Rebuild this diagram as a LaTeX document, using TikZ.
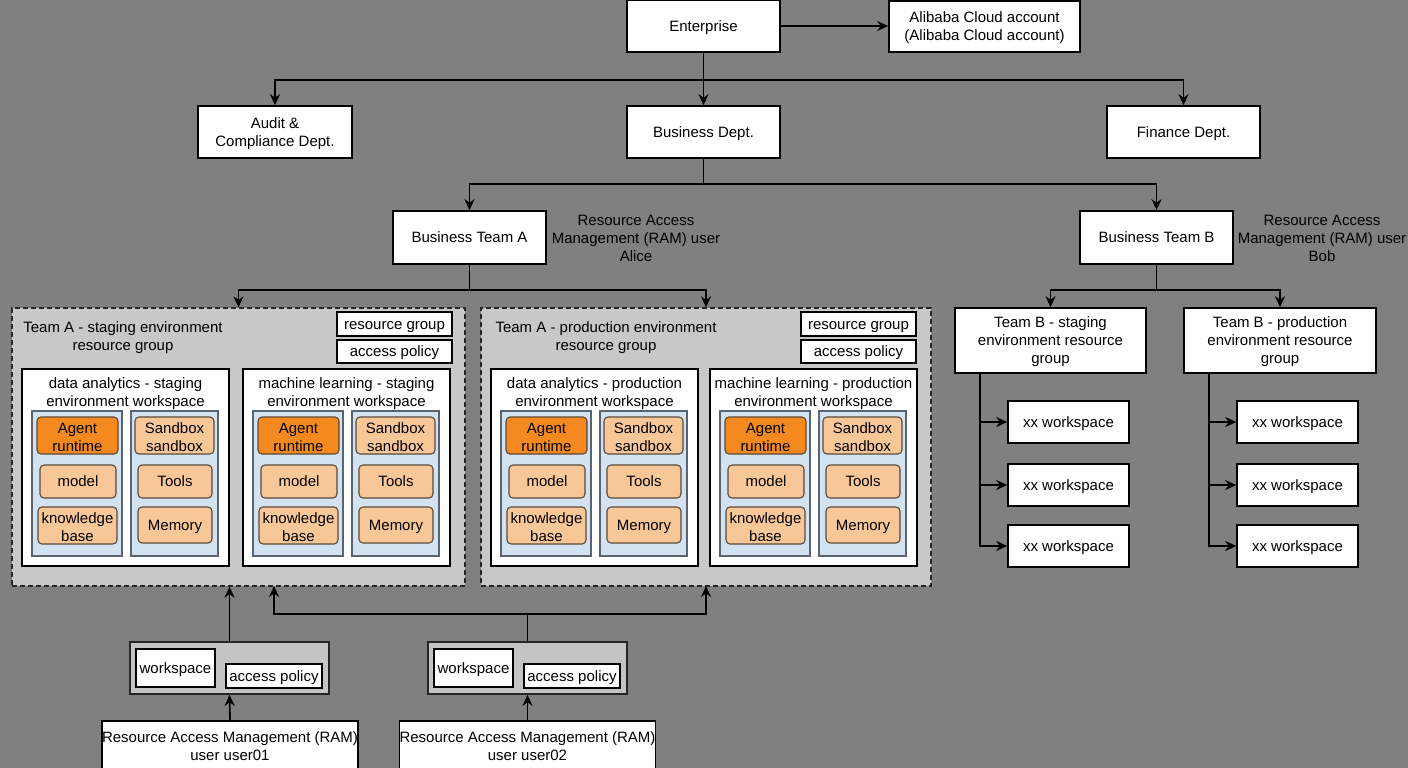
\documentclass[tikz,border=0pt]{standalone}
\usepackage{fontspec}
\setmainfont{Liberation Sans}
\usetikzlibrary{arrows.meta}
\definecolor{bgc}{HTML}{808080}
\definecolor{grpc}{HTML}{C8C8C8}
\definecolor{contc}{HTML}{C4C4C4}
\definecolor{colc}{HTML}{D3E2F1}
\definecolor{colb}{HTML}{5A6470}
\definecolor{darkor}{HTML}{F4891F}
\definecolor{lightor}{HTML}{F8C797}
\definecolor{orb}{HTML}{5A4A3A}
\newcommand\mystrut{\rule[-3.2pt]{0pt}{17.2pt}}
\newcommand\fl{\rule{0pt}{13.5pt}}
\tikzset{
  txt/.style={font=\fontsize{15}{18}\selectfont, align=center, inner sep=0pt},
  one/.style={execute at begin node=\mystrut, execute at end node=\mystrut},
  box/.style={txt, draw=black, fill=white, line width=1.6pt},
  grp/.style={draw=black!85, fill=grpc, line width=1.3pt, dash pattern=on 5pt off 3pt},
  cont/.style={draw=black!85, fill=contc, line width=1.6pt},
  col/.style={draw=colb, fill=colc, line width=1.1pt},
  dor/.style={txt, draw=orb, fill=darkor, line width=1.1pt, rounded corners=4pt},
  lor/.style={txt, draw=orb, fill=lightor, line width=1.1pt, rounded corners=4pt},
  arr/.style={draw=black, line width=1.8pt, -{Stealth[length=11pt,width=10pt]}},
  ln/.style={draw=black, line width=1.8pt},
}
\newcommand\wsblock[3]{%
  \begin{scope}[shift={(#2,0)}]
    \node[box, minimum width=207, minimum height=197] (#1) at (125.5,467.5) {};
    \node[txt] (#1-t) at (125.5,392) {\fl #3};
    \node[col, minimum width=90, minimum height=145] (#1-cl) at (77,483.5) {};
    \node[col, minimum width=87, minimum height=145] (#1-cr) at (174.5,483.5) {};
    \node[dor, minimum width=81, minimum height=37] (#1-ag) at (77.5,435.5) {\fl Agent\\runtime};
    \node[lor, minimum width=79, minimum height=37] (#1-sb) at (174.5,435.5) {\fl Sandbox\\sandbox};
    \node[lor, one, minimum width=76, minimum height=33] (#1-md) at (78,481.5) {model};
    \node[lor, one, minimum width=74, minimum height=33] (#1-tl) at (175,481.5) {Tools};
    \node[lor, minimum width=79, minimum height=37] (#1-kb) at (77.5,525.5) {\fl knowledge\\base};
    \node[lor, one, minimum width=74, minimum height=36] (#1-mm) at (175,525) {Memory};
  \end{scope}}
\begin{document}
\begin{tikzpicture}[x=1pt,y=-1pt]
\useasboundingbox (0,0) rectangle (1408,768);
\fill[bgc] (0,0) rectangle (1408,768);

% top
\node[box, one, minimum width=153, minimum height=52] (ent) at (703.5,26) {Enterprise};
\node[box, minimum width=191, minimum height=51] (acct) at (984.5,26.5) {\fl Alibaba Cloud account\\(Alibaba Cloud account)};
\node[box, minimum width=154, minimum height=52] (aud) at (275,132) {\fl Audit \&\\Compliance Dept.};
\node[box, one, minimum width=153, minimum height=52] (bd) at (703.5,132) {Business Dept.};
\node[box, one, minimum width=153, minimum height=52] (fin) at (1183.5,132) {Finance Dept.};
\node[box, one, minimum width=153, minimum height=53] (ta) at (469.5,237.5) {Business Team A};
\node[box, one, minimum width=153, minimum height=53] (tb) at (1156.5,237.5) {Business Team B};
\node[txt] (alice) at (636,236.5) {\fl Resource Access\\Management (RAM) user\\Alice};
\node[txt] (bob) at (1322,236.5) {\fl Resource Access\\Management (RAM) user\\Bob};

\draw[arr] (ent.east) -- (ent.east -| acct.west);
\coordinate (j1) at (703.5,80);
\draw[ln] (ent.south) -- (j1);
\draw[arr] (j1) -| (aud.north);
\draw[arr] (j1) -- (bd.north);
\draw[arr] (j1) -| (fin.north);
\coordinate (j2) at (703.5,184);
\draw[ln] (bd.south) -- (j2);
\draw[arr] (j2) -| (ta.north);
\draw[arr] (j2) -| (tb.north);

% Team A groups
\node[grp, minimum width=453, minimum height=278] (gs) at (238.5,447) {};
\node[grp, minimum width=450, minimum height=278] (gp) at (706,447) {};
\coordinate (j3) at (469.5,290);
\draw[ln] (ta.south) -- (j3);
\draw[arr] (j3) -| (gs.north);
\draw[arr] (j3) -| (gp.north);

\node[txt] (gs-t) at (123,336.5) {\fl Team A - staging environment\\resource group};
\node[box, one, minimum width=115, minimum height=24] (gs-rg) at (394.5,324) {resource group};
\node[box, one, minimum width=115, minimum height=23] (gs-ap) at (394.5,351.5) {access policy};
\node[txt] (gp-t) at (606,336.5) {\fl Team A - production environment\\resource group};
\node[box, one, minimum width=115, minimum height=24] (gp-rg) at (858.5,324) {resource group};
\node[box, one, minimum width=115, minimum height=23] (gp-ap) at (858.5,351.5) {access policy};

\wsblock{wa}{0}{data analytics - staging\\environment workspace}
\wsblock{wb}{221}{machine learning - staging\\environment workspace}
\wsblock{wc}{469}{data analytics - production\\environment workspace}
\wsblock{wd}{688}{machine learning - production\\environment workspace}

% Team B
\node[box, minimum width=191, minimum height=65] (tbs) at (1050.5,340.5) {\fl Team B - staging\\environment resource\\group};
\node[box, minimum width=192, minimum height=65] (tbp) at (1280,340.5) {\fl Team B - production\\environment resource\\group};
\coordinate (j4) at (1156.5,290);
\draw[ln] (tb.south) -- (j4);
\draw[arr] (j4) -| (tbs.north);
\draw[arr] (j4) -| (tbp.north);

\foreach \n/\y in {1/422,2/485,3/546}{
  \node[box, one, minimum width=121, minimum height=42] (bs\n) at (1068.5,\y) {xx workspace};
  \node[box, one, minimum width=121, minimum height=42] (bp\n) at (1297.5,\y) {xx workspace};
}
\coordinate (tsT) at ([xshift=26pt]tbs.south west);
\coordinate (tpT) at ([xshift=26pt]tbp.south west);
\foreach \n in {1,2,3}{
  \draw[arr] (tsT) |- (bs\n.west);
  \draw[arr] (tpT) |- (bp\n.west);
}

% bottom
\node[cont, minimum width=199, minimum height=52] (c1) at (229.5,668) {};
\node[box, one, minimum width=79, minimum height=38] (c1-ws) at (175.5,668) {workspace};
\node[box, one, minimum width=96, minimum height=24] (c1-ap) at (274,676) {access policy};
\node[cont, minimum width=199, minimum height=52] (c2) at (527.5,668) {};
\node[box, one, minimum width=79, minimum height=38] (c2-ws) at (473.5,668) {workspace};
\node[box, one, minimum width=96, minimum height=24] (c2-ap) at (572,676) {access policy};
\node[box, minimum width=254, minimum height=48] (u1) at (230,745) {\fl Resource Access Management (RAM)\\user user01};
\node[box, minimum width=255, minimum height=48] (u2) at (527.5,745) {\fl Resource Access Management (RAM)\\user user02};

\draw[arr] (u1.north) -- (c1.south);
\draw[arr] (u2.north) -- (c2.south);
\draw[arr] (c1.north) -- (c1.north |- gs.south);
\coordinate (j5) at (527.5,614);
\coordinate (gsIn) at (274,586);
\coordinate (gpIn) at (706,586);
\draw[ln] (c2.north) -- (j5);
\draw[arr] (j5) -| (gsIn);
\draw[arr] (j5) -| (gpIn);
\end{tikzpicture}
\end{document}
